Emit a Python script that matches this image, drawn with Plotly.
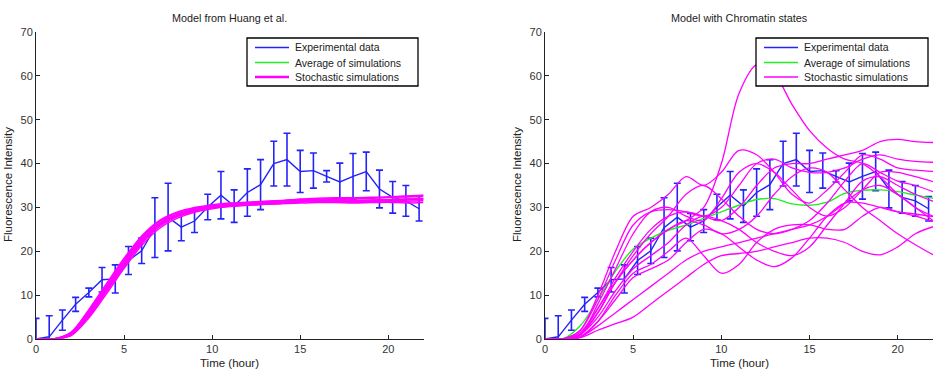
import plotly.graph_objects as go

# ---------------- data ----------------
exp_t = [0, 0.75, 1.5, 2.25, 3.0, 3.75, 4.5, 5.25, 6.0, 6.75, 7.5, 8.25, 9.0, 9.75, 10.5,
         11.25, 12.0, 12.75, 13.5, 14.25, 15.0, 15.75, 16.5, 17.25, 18.0, 18.75, 19.5, 20.25, 21.0, 21.75]
exp_mean = [0.0, 0.5, 4.3, 7.9, 10.6, 13.5, 13.7, 17.9, 20.1, 25.4, 27.8, 25.5, 26.9, 30.1, 32.8,
            30.3, 33.4, 35.2, 40.0, 40.9, 38.2, 38.4, 37.1, 35.8, 37.1, 38.2, 34.2, 32.3, 31.5, 29.7]
exp_err = [4.7, 4.8, 2.3, 1.6, 1.0, 2.8, 3.2, 3.2, 2.9, 6.8, 7.7, 3.1, 2.6, 2.9, 5.4,
           3.7, 5.4, 5.7, 5.1, 6.0, 4.8, 4.0, 1.3, 4.3, 5.2, 4.4, 4.3, 3.6, 3.5, 2.8]

sim_t = list(range(0, 23))

# Model from Huang et al. (left)
huang_avg = [0, 0, 1.2, 5.8, 11.5, 17.3, 22.5, 26.2, 28.1, 29.4, 30.1, 30.5, 30.8, 31.0, 31.2, 31.4, 31.6, 31.6, 31.6, 31.7, 31.8, 31.9, 32.0]
huang_sims = [
    [0, 0, 1.2, 5.8, 11.5, 17.3, 22.5, 26.2, 28.1, 29.4, 30.1, 30.5, 30.8, 31.0, 31.2, 31.4, 31.6, 31.6, 31.6, 31.7, 31.8, 31.9, 32.0],
    [0, 0, 0.9, 5.1, 10.8, 16.6, 21.8, 25.6, 27.9, 29.2, 29.9, 30.3, 30.6, 30.8, 31.0, 31.5, 31.9, 32.0, 32.1, 32.2, 32.3, 32.5, 32.7],
    [0, 0, 1.5, 6.4, 12.2, 18.0, 23.2, 26.8, 28.7, 29.8, 30.4, 30.8, 31.1, 31.3, 31.5, 31.7, 31.5, 31.3, 31.2, 31.2, 31.3, 31.4, 31.5],
    [0, 0, 0.8, 4.8, 10.3, 16.1, 21.3, 25.2, 27.5, 28.9, 29.7, 30.2, 30.5, 30.7, 30.9, 31.2, 31.6, 31.8, 31.9, 32.1, 32.3, 32.4, 32.5],
    [0, 0, 1.6, 6.7, 12.6, 18.4, 23.5, 27.0, 28.9, 30.0, 30.6, 31.0, 31.2, 31.4, 31.6, 31.8, 31.7, 31.5, 31.3, 31.4, 31.5, 31.7, 31.8],
    [0, 0, 1.1, 5.5, 11.2, 16.9, 22.1, 25.9, 27.9, 29.2, 29.9, 30.3, 30.5, 30.7, 30.9, 31.0, 31.1, 31.1, 31.0, 31.1, 31.2, 31.0, 31.1],
    [0, 0, 1.3, 6.1, 11.9, 17.7, 22.9, 26.5, 28.4, 29.6, 30.3, 30.7, 31.0, 31.2, 31.5, 31.9, 32.1, 32.2, 32.2, 32.3, 32.4, 32.6, 32.8],
    [0, 0, 1.0, 5.4, 11.0, 16.9, 22.2, 26.0, 28.0, 29.3, 30.0, 30.4, 30.7, 30.9, 31.1, 31.3, 31.4, 31.5, 31.5, 31.6, 31.7, 31.8, 31.9],
]

# Model with Chromatin states (right)
chrom_avg = [0, 0, 3.0, 9.0, 15.5, 20.5, 23.0, 24.8, 26.0, 27.5, 29.0, 30.5, 31.8, 32.0, 30.8, 30.5, 31.2, 33.2, 33.9, 34.0, 33.6, 32.8, 32.1]
chrom_sims = [
    [0, 0, 1.5, 7.0, 13.0, 18.0, 22.0, 25.0, 27.0, 30.0, 40.0, 56.0, 62.5, 60.5, 53.5, 47.5, 43.5, 41.0, 40.0, 37.0, 33.0, 30.0, 27.0],
    [0, 0, 1.0, 7.0, 14.0, 20.0, 25.0, 28.0, 29.0, 28.0, 27.0, 30.0, 35.0, 39.0, 40.0, 40.0, 41.0, 42.0, 43.0, 45.0, 45.5, 45.0, 44.8],
    [0, 0, 2.0, 9.0, 18.0, 26.0, 29.0, 29.5, 29.0, 28.0, 30.0, 35.0, 40.0, 41.0, 39.0, 38.0, 38.0, 39.0, 41.0, 42.0, 41.0, 40.5, 40.3],
    [0, 0, 2.0, 10.0, 20.0, 28.0, 30.0, 33.0, 37.0, 35.0, 38.0, 43.0, 42.0, 38.0, 33.0, 31.0, 34.0, 38.0, 42.0, 41.0, 39.0, 38.5, 38.2],
    [0, 0, 1.0, 8.0, 16.0, 24.0, 29.0, 30.0, 28.0, 27.0, 32.0, 38.0, 40.0, 38.0, 34.0, 30.0, 28.0, 30.0, 34.0, 38.0, 38.0, 37.0, 35.9],
    [0, 0, 1.0, 6.0, 13.0, 19.0, 24.0, 28.0, 33.0, 35.0, 32.0, 28.0, 25.0, 24.0, 25.0, 27.0, 31.0, 36.0, 40.0, 38.0, 36.0, 35.0, 33.6],
    [0, 0, 1.0, 5.0, 11.0, 16.0, 19.0, 22.0, 26.0, 28.0, 27.0, 25.0, 22.0, 20.0, 19.0, 21.0, 26.0, 31.0, 36.0, 37.0, 35.0, 33.0, 31.4],
    [0, 0, 0.5, 4.0, 9.0, 14.0, 16.0, 18.0, 22.0, 25.0, 24.0, 21.0, 18.0, 16.5, 18.5, 23.0, 28.0, 31.0, 31.0, 30.0, 29.0, 28.5, 27.9],
    [0, 0, 0.5, 4.0, 10.0, 15.0, 17.0, 20.0, 23.0, 19.0, 15.0, 17.0, 22.0, 25.0, 26.0, 26.0, 25.0, 25.0, 28.0, 30.0, 29.0, 28.0, 26.8],
    [0, 0, 0.3, 2.0, 3.5, 5.0, 8.0, 11.0, 14.0, 17.0, 19.0, 19.5, 20.0, 21.0, 22.0, 23.0, 23.0, 22.0, 20.0, 19.2, 21.0, 24.0, 25.6],
    [0, 0, 1.0, 6.0, 13.0, 18.0, 22.0, 25.0, 27.0, 26.0, 24.0, 25.0, 28.0, 33.0, 37.0, 39.0, 38.0, 34.0, 30.0, 27.0, 24.0, 21.5, 19.2],
    [0, 0, 0.5, 3.0, 6.0, 9.0, 12.0, 15.0, 18.0, 20.0, 21.0, 22.0, 23.0, 24.0, 25.0, 26.0, 28.0, 31.0, 34.0, 35.0, 33.0, 30.0, 28.0],
]

titles = ["Model from Huang et al.", "Model with Chromatin states"]
legend_labels = ["Experimental data", "Average of simulations", "Stochastic simulations"]
x_ticks = [0, 5, 10, 15, 20]
y_ticks = [0, 10, 20, 30, 40, 50, 60, 70]

# ---------------- styling ----------------
W, H = 934, 374
FONT = "Liberation Sans, Arial, Helvetica, sans-serif"
TXT = "#222222"
BLUE = "#2424f8"
GREEN = "#22ee22"
MAGENTA = "#ff00ff"
COLORS = [BLUE, GREEN, MAGENTA]

fig = go.Figure()

panels = [
    dict(xa="x", ya="y", sims=huang_sims, avg=huang_avg, simw=1.5),
    dict(xa="x2", ya="y2", sims=chrom_sims, avg=chrom_avg, simw=1.3),
]

for p in panels:
    fig.add_trace(go.Scatter(
        x=exp_t, y=exp_mean, mode="lines", name=legend_labels[0],
        line=dict(color=BLUE, width=1.4),
        error_y=dict(type="data", array=exp_err, visible=True, color=BLUE, thickness=1.6, width=3.5),
        xaxis=p["xa"], yaxis=p["ya"], showlegend=False,
    ))
    fig.add_trace(go.Scatter(
        x=sim_t, y=p["avg"], mode="lines", name=legend_labels[1],
        line=dict(color=GREEN, width=1.4, shape="spline", smoothing=0.9),
        xaxis=p["xa"], yaxis=p["ya"], showlegend=False,
    ))
    for s in p["sims"]:
        fig.add_trace(go.Scatter(
            x=sim_t, y=s, mode="lines", name=legend_labels[2],
            line=dict(color=MAGENTA, width=p["simw"], shape="spline", smoothing=0.9),
            xaxis=p["xa"], yaxis=p["ya"], showlegend=False,
        ))

# axis domains (pixel positions of the reference)
px_left = [36, 545]
px_right = [423.5, 933]
px_top, px_bot = 32, 339
x_dom = [[px_left[i] / W, px_right[i] / W] for i in range(2)]
y_dom = [1 - px_bot / H, 1 - px_top / H]

axis_common = dict(
    showline=True, linecolor="#222222", linewidth=1, mirror=False,
    ticks="inside", ticklen=4, tickcolor="#222222", tickwidth=1,
    showgrid=False, zeroline=False,
    tickfont=dict(family=FONT, size=11, color="#333333"),
)

fig.update_layout(
    width=W, height=H,
    margin=dict(l=0, r=0, t=0, b=0, autoexpand=False),
    paper_bgcolor="white", plot_bgcolor="white",
    font=dict(family=FONT, size=10, color=TXT),
    xaxis=dict(domain=x_dom[0], range=[0, 22], tickvals=x_ticks, anchor="y", **axis_common),
    yaxis=dict(domain=y_dom, range=[0, 70], tickvals=y_ticks, anchor="x", **axis_common),
    xaxis2=dict(domain=x_dom[1], range=[0, 22], tickvals=x_ticks, anchor="y2", **axis_common),
    yaxis2=dict(domain=y_dom, range=[0, 70], tickvals=y_ticks, anchor="x2", **axis_common),
    showlegend=False,
)

def px(x):
    return x / W

def py(y):
    return 1 - y / H

annotations = []
shapes = []
centers = [(px_left[i] + px_right[i]) / 2 for i in range(2)]
ytitle_x = [8, 517]
for i in range(2):
    annotations.append(dict(text=titles[i], x=px(centers[i]), y=py(18), xref="paper", yref="paper",
                            xanchor="center", yanchor="middle",
                            showarrow=False, font=dict(family=FONT, size=10.8, color=TXT)))
    annotations.append(dict(text="Time (hour)", x=px(centers[i]), y=py(363), xref="paper", yref="paper",
                            xanchor="center", yanchor="middle",
                            showarrow=False, font=dict(family=FONT, size=11.5, color=TXT)))
    annotations.append(dict(text="Fluorescence Intensity", x=px(ytitle_x[i]), y=py(185),
                            xref="paper", yref="paper", textangle=-90, xanchor="center", yanchor="middle",
                            showarrow=False, font=dict(family=FONT, size=11.5, color=TXT)))

# legend boxes (drawn as shapes + text)
legend_boxes = [(247, 418), (756, 928)]
legend_top, legend_bot = 38, 86
entry_y = [47.5, 62.5, 77]
sample_widths = [[1.4, 1.4, 2.4], [1.4, 1.4, 1.4]]
for i, (x0, x1) in enumerate(legend_boxes):
    shapes.append(dict(type="rect", xref="paper", yref="paper",
                       x0=px(x0), x1=px(x1), y0=py(legend_bot), y1=py(legend_top),
                       line=dict(color="black", width=1.3), fillcolor="white", layer="above"))
    for j, lab in enumerate(legend_labels):
        shapes.append(dict(type="line", xref="paper", yref="paper",
                           x0=px(x0 + 8), x1=px(x0 + 42), y0=py(entry_y[j]), y1=py(entry_y[j]),
                           line=dict(color=COLORS[j], width=sample_widths[i][j]), layer="above"))
        annotations.append(dict(text=lab, x=px(x0 + 46), y=py(entry_y[j]), xref="paper", yref="paper",
                                xanchor="left", yanchor="middle", showarrow=False,
                                font=dict(family=FONT, size=10.5, color=TXT)))

fig.update_layout(annotations=annotations, shapes=shapes)

fig.write_html("out.html")
